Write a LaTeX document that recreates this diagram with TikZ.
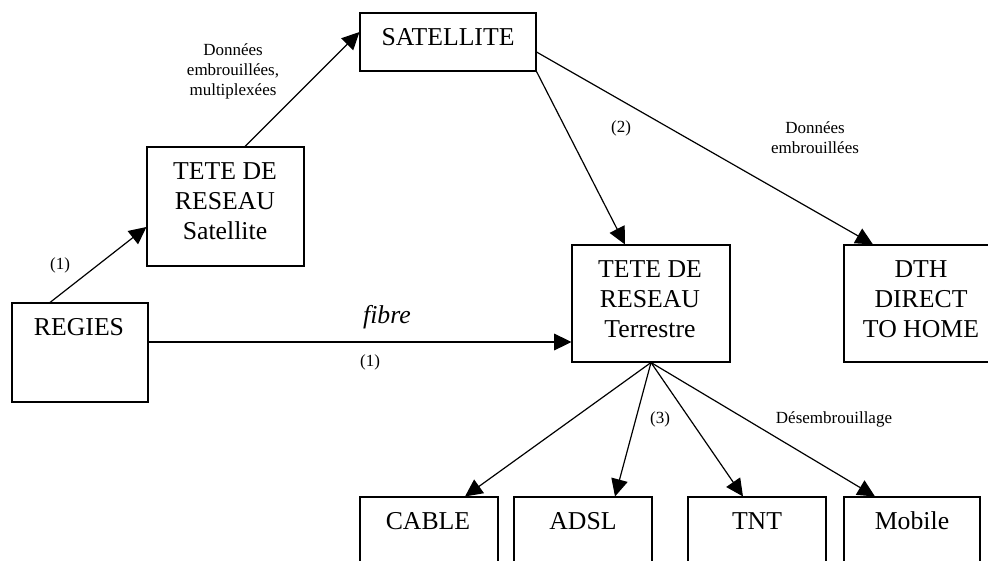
\documentclass[tikz,border=0pt]{standalone}
\usepackage{fontspec}
\setmainfont{Liberation Serif}
\usetikzlibrary{arrows.meta,calc}
\begin{document}
\begin{tikzpicture}[x=0.75pt,y=-0.75pt,
  box/.style={draw,line width=0.8pt,rectangle,inner sep=0pt},
  bigtxt/.style={font=\fontsize{19.3pt}{22.5pt}\selectfont,align=center,inner sep=0pt},
  smalltxt/.style={font=\fontsize{12.75pt}{15pt}\selectfont,align=center,inner sep=0pt},
  conn/.style={line width=0.9pt,-{Triangle[length=13pt,width=12.5pt]}}]
\useasboundingbox (0,0) rectangle (988,560);
\clip (0,0) rectangle (988,560);
% boxes
\node[box,minimum width={176*0.75pt},minimum height={58*0.75pt}] (sat) at (448,42) {};
\node[box,minimum width={157*0.75pt},minimum height={119*0.75pt}] (trs) at (225.5,206.5) {};
\node[box,minimum width={136*0.75pt},minimum height={99*0.75pt}] (reg) at (80,352.5) {};
\node[box,minimum width={158*0.75pt},minimum height={117*0.75pt}] (trt) at (651,303.5) {};
\node[box,minimum width={154*0.75pt},minimum height={117*0.75pt}] (dth) at (921,303.5) {};
\node[box,minimum width={138*0.75pt},minimum height={80*0.75pt}] (cab) at (429,537) {};
\node[box,minimum width={138*0.75pt},minimum height={80*0.75pt}] (adsl) at (583,537) {};
\node[box,minimum width={138*0.75pt},minimum height={80*0.75pt}] (tnt) at (757,537) {};
\node[box,minimum width={136*0.75pt},minimum height={80*0.75pt}] (mob) at (912,537) {};
% box texts
\node[bigtxt] (satT) at (448,37) {SATELLITE};
\node[bigtxt] (trsT) at (225,201.5) {TETE DE\\RESEAU\\Satellite};
\node[bigtxt] (regT) at (79,327) {REGIES};
\node[bigtxt] (trtT) at (650,299) {TETE DE\\RESEAU\\Terrestre};
\node[bigtxt] (dthT) at (921,299) {DTH\\DIRECT\\TO HOME};
\node[bigtxt] (cabT) at (428,521) {CABLE};
\node[bigtxt] (adslT) at (583,521) {ADSL};
\node[bigtxt] (tntT) at (757,521) {TNT};
\node[bigtxt] (mobT) at (912,521) {Mobile};
% connectors
\draw[conn] ($(reg.north)+(-30,0)$) -- ($(trs.west)+(0,20.5)$);
\draw[conn] ($(trs.north)+(19.5,0)$) -- ($(sat.west)+(0,-10)$);
\draw[conn] ($(sat.east)+(0,10)$) -- ($(dth.north)+(-48,0)$);
\draw[conn] (sat.south east) -- ($(trt.north)+(-26,0)$);
\coordinate (fibS) at ($(reg.east)+(0,-10.5)$);
\draw[conn] (fibS) -- (fibS -| trt.west);
\draw[conn] (trt.south) -- ($(cab.north)+(36,0)$);
\draw[conn] (trt.south) -- ($(adsl.north)+(32,0)$);
\draw[conn] (trt.south) -- ($(tnt.north)+(-14,0)$);
\draw[conn] (trt.south) -- ($(mob.north)+(-37,0)$);
% labels
\node[smalltxt] (l1) at (233,71) {Données\\embrouillées,\\multiplexées};
\node[smalltxt] (l2) at (60,265) {(1)};
\node[smalltxt] (l3) at (621,128) {(2)};
\node[smalltxt] (l4) at (815,138) {Données\\embrouillées};
\node[bigtxt,font=\fontsize{19.3pt}{22.5pt}\selectfont\itshape] (l5) at (387,317) {fibre};
\node[smalltxt] (l6) at (370,362) {(1)};
\node[smalltxt] (l7) at (660,419) {(3)};
\node[smalltxt] (l8) at (834,419) {Désembrouillage};
\end{tikzpicture}
\end{document}
